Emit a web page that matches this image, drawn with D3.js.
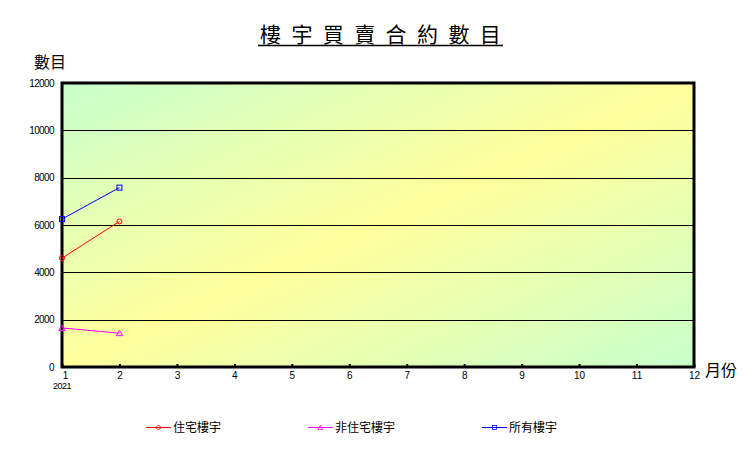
<!DOCTYPE html>
<html>
<head>
<meta charset="utf-8">
<script src="https://cdn.jsdelivr.net/npm/d3@7"></script>
<style>
  body { margin: 0; background: #fff; }
  svg { display: block; }
</style>
</head>
<body>
<div id="chart"></div>
<script>
// data
var months = [1, 2];
var residential = [4600, 6150];
var nonResidential = [1650, 1430];
var allBuildings = [6250, 7580];
var seriesNames = ["住宅樓宇", "非住宅樓宇", "所有樓宇"];
var seriesColors = ["#ff0000", "#ff00ff", "#0000ff"];
var xTicks = [1, 2, 3, 4, 5, 6, 7, 8, 9, 10, 11, 12];
var yTicks = [0, 2000, 4000, 6000, 8000, 10000, 12000];

var svgWidth = 756, svgHeight = 454;
var margin = { top: 83, right: 62, bottom: 87, left: 62 };
var width = svgWidth - margin.left - margin.right;
var height = svgHeight - margin.top - margin.bottom;

var svg = d3.select("#chart").append("svg")
  .attr("width", svgWidth)
  .attr("height", svgHeight);

var defs = svg.append("defs");
var grad = defs.append("linearGradient")
  .attr("id", "bg")
  .attr("x1", 0).attr("y1", 0).attr("x2", 1).attr("y2", 1);
grad.append("stop").attr("offset", "0%").attr("stop-color", "#c8ffcc");
grad.append("stop").attr("offset", "50%").attr("stop-color", "#ffff9c");
grad.append("stop").attr("offset", "100%").attr("stop-color", "#c8ffcc");

var chartGroup = svg.append("g")
  .attr("transform", `translate(${margin.left}, ${margin.top})`);

var x = d3.scaleLinear().domain([1, 12]).range([0, width]);
var y = d3.scaleLinear().domain([0, 12000]).range([height, 0]);

// plot background
chartGroup.append("rect")
  .attr("width", width)
  .attr("height", height)
  .attr("fill", "url(#bg)");

// gridlines
chartGroup.append("g")
  .selectAll("line")
  .data(yTicks.filter(d => d > 0 && d < 12000))
  .enter()
  .append("line")
  .attr("x1", 0).attr("x2", width)
  .attr("y1", d => Math.round(y(d)) + 0.5)
  .attr("y2", d => Math.round(y(d)) + 0.5)
  .attr("stroke", "#000")
  .attr("stroke-width", 1);

// y axis labels
var leftAxis = d3.axisLeft(y).tickValues(yTicks).tickFormat(d3.format("d"))
  .tickSize(0).tickPadding(8);
var yAxis = chartGroup.append("g").call(leftAxis);
yAxis.select(".domain").remove();
yAxis.selectAll("text")
  .attr("font-family", "Arial, 'Liberation Sans', sans-serif")
  .attr("font-size", "10px")
  .attr("letter-spacing", "-0.6px")
  .attr("fill", "#000");

// x axis, ticks point inward
var bottomAxis = d3.axisBottom(x).tickValues(xTicks).tickSize(-3).tickPadding(5);
var xAxis = chartGroup.append("g")
  .attr("transform", `translate(0, ${height})`)
  .call(bottomAxis);
xAxis.select(".domain").remove();
xAxis.selectAll(".tick line").attr("stroke", "#000").attr("stroke-width", 2);
xAxis.selectAll("text")
  .attr("font-family", "Arial, 'Liberation Sans', sans-serif")
  .attr("font-size", "10px")
  .attr("fill", "#000");
xAxis.selectAll(".tick").filter(d => d === 1).select("text").attr("dx", 3);

// plot frame
chartGroup.append("rect")
  .attr("width", width)
  .attr("height", height)
  .attr("fill", "none")
  .attr("stroke", "#000")
  .attr("stroke-width", 3);

chartGroup.append("text")
  .attr("x", x(1))
  .attr("y", height + 22)
  .attr("text-anchor", "middle")
  .attr("font-family", "Arial, 'Liberation Sans', sans-serif")
  .attr("font-size", "9px")
  .attr("letter-spacing", "-0.5px")
  .text("2021");

// series
var series = [residential, nonResidential, allBuildings].map(function(vals, i) {
  return { name: seriesNames[i], color: seriesColors[i], marker: i,
           values: months.map((m, j) => ({ month: m, value: vals[j] })) };
});

var line = d3.line().x(d => x(d.month)).y(d => y(d.value));

function drawMarker(g, type, color) {
  if (type === 0) {
    g.append("circle").attr("r", 2.5)
      .attr("fill", "none").attr("stroke", color);
  } else if (type === 1) {
    g.append("path").attr("d", "M0,-3L3.2,2.5L-3.2,2.5Z")
      .attr("fill", "none").attr("stroke", color);
  } else {
    g.append("rect").attr("x", -2.5).attr("y", -2.5)
      .attr("width", 5).attr("height", 5)
      .attr("fill", "none").attr("stroke", color);
  }
}

series.forEach(function(s) {
  chartGroup.append("path")
    .datum(s.values)
    .attr("d", line)
    .attr("fill", "none")
    .attr("stroke", s.color)
    .attr("stroke-width", 1);
  s.values.forEach(function(d) {
    var g = chartGroup.append("g")
      .attr("transform", `translate(${x(d.month)}, ${y(d.value)})`);
    drawMarker(g, s.marker, s.color);
  });
});

// title
svg.append("text")
  .attr("x", 260)
  .attr("y", 42)
  .attr("font-family", "'Noto Sans CJK TC', sans-serif")
  .attr("font-size", "21px")
  .attr("letter-spacing", "10.4px")
  .attr("fill", "#000")
  .text("樓宇買賣合約數目");
svg.append("line")
  .attr("x1", 258).attr("x2", 503)
  .attr("y1", 45.5).attr("y2", 45.5)
  .attr("stroke", "#000").attr("stroke-width", 1.5);

svg.append("text")
  .attr("x", 34).attr("y", 68)
  .attr("font-family", "'Noto Sans CJK TC', sans-serif")
  .attr("font-size", "16px")
  .text("數目");

svg.append("text")
  .attr("x", 705).attr("y", 376)
  .attr("font-family", "'Noto Sans CJK TC', sans-serif")
  .attr("font-size", "16px")
  .text("月份");

// legend
var legendX = [146, 308, 482];
var legend = svg.append("g");
series.forEach(function(s, i) {
  var g = legend.append("g").attr("transform", `translate(${legendX[i]}, 427)`);
  g.append("line").attr("x1", 0).attr("x2", 25).attr("y1", 0.5).attr("y2", 0.5)
    .attr("stroke", s.color);
  var m = g.append("g").attr("transform", "translate(12.5, 0.5) scale(0.8)");
  drawMarker(m, s.marker, s.color);
  g.append("text")
    .attr("x", 27).attr("y", 5)
    .attr("font-family", "'Noto Sans CJK TC', sans-serif")
    .attr("font-size", "12px")
    .text(s.name);
});
</script>
</body>
</html>
